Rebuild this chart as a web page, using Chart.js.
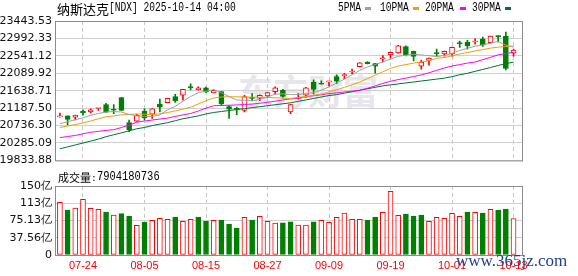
<!DOCTYPE html>
<html>
<head>
<meta charset="utf-8">
<title>纳斯达克[NDX]</title>
<script src="https://cdn.jsdelivr.net/npm/chart.js@4.4.0/dist/chart.umd.min.js"></script>
<style>
  html, body { margin: 0; padding: 0; background: #fff; }
  #wrap { position: relative; width: 578px; height: 276px; overflow: hidden; }
  .abs { position: absolute; white-space: nowrap; }
  .cn { font-family: "Noto Sans CJK SC", sans-serif; color: #000; }
  .mono { font-family: "Liberation Mono", monospace; font-size: 12px; color: #000;
          transform: scaleX(0.8); transform-origin: 0 50%; }
  .swatch { position: absolute; width: 6px; height: 3px; }
  canvas { position: absolute; left: 0; }
</style>
</head>
<body>
<div id="wrap">
  <!-- watermarks -->
  <div class="abs cn" style="left:238px; top:71px; font-size:35px; line-height:38px; font-weight:bold; color:#e6e6ec;">东方财富</div>

  <canvas id="priceChart" width="578" height="170" style="top:0"></canvas>
  <canvas id="volumeChart" width="578" height="106" style="top:170px"></canvas>

  <div class="abs cn" style="left:57px; top:0; font-size:13px; line-height:17px;">纳斯达克</div>
  <div class="abs mono" style="left:109px; top:0; line-height:17px;">[NDX] 2025-10-14 04:00</div>
  <div id="legend"></div>

  <div class="abs cn" style="left:58px; top:170px; font-size:11px; line-height:15px;">成交量</div>
  <div class="abs" style="left:92px; top:170px; font-family:'DejaVu Sans', sans-serif; font-size:11px; line-height:15px; color:#000;">:</div>
  <div class="abs mono" style="left:97px; top:170px; line-height:15px; transform: scaleX(0.87);" id="volLabel"></div>

  <div class="abs" style="left:456px; top:252px; font-family:'Liberation Serif', serif; font-size:17px; line-height:18px; color:#23408e;">www.365jz.com</div>
</div>

<script>
// ---- data ----
const dates = ['07-21','07-22','07-23','07-24','07-25','07-28','07-29','07-30','07-31','08-01',
  '08-04','08-05','08-06','08-07','08-08','08-11','08-12','08-13','08-14','08-15',
  '08-18','08-19','08-20','08-21','08-22','08-25','08-26','08-27','08-28','08-29',
  '09-02','09-03','09-04','09-05','09-08','09-09','09-10','09-11','09-12','09-15',
  '09-16','09-17','09-18','09-19','09-22','09-23','09-24','09-25','09-26','09-29',
  '09-30','10-01','10-02','10-03','10-06','10-07','10-08','10-09','10-10','10-13'];

const opens = [20960, 20987, 20954, 21105, 21087, 21178, 21280, 21150, 21463, 20811,
  20850, 21112, 21029, 21295, 21330, 21488, 21521, 21746, 21656, 21714,
  21581, 21613, 21230, 21180, 21130, 21446, 21446, 21506, 21613, 21646,
  21087, 21438, 21521, 21864, 21814, 21868, 22007, 22029, 22122, 22258,
  22383, 22341, 22466, 22566, 22616, 22779, 22659, 22273, 22423, 22616,
  22591, 22591, 22884, 22900, 22900, 22985, 22884, 23065, 23055, 22609];

const highs = [21062, 20990, 21010, 21145, 21170, 21185, 21313, 21280, 21465, 20879,
  21030, 21170, 21172, 21421, 21440, 21546, 21673, 21814, 21739, 21730,
  21660, 21625, 21255, 21213, 21521, 21564, 21530, 21590, 21739, 21671,
  21285, 21564, 21725, 21922, 21897, 21880, 22047, 22090, 22198, 22365,
  22390, 22345, 22549, 22640, 22815, 22799, 22665, 22423, 22490, 22717,
  22665, 22765, 22925, 22942, 22985, 23025, 23055, 23066, 23155, 22717];

const lows = [20955, 20754, 20879, 21004, 21062, 21130, 21078, 21045, 21120, 20578,
  20845, 20879, 20920, 21087, 21328, 21338, 21396, 21656, 21654, 21590,
  21578, 21255, 20920, 21020, 21087, 21380, 21380, 21463, 21546, 21463,
  21045, 21421, 21463, 21546, 21806, 21756, 21822, 21947, 22072, 22255,
  22335, 22090, 22383, 22483, 22605, 22541, 22408, 22198, 22298, 22533,
  22533, 22533, 22759, 22717, 22842, 22784, 22870, 22900, 22178, 22533];

const closes = [20965, 20894, 21004, 21070, 21145, 21182, 21080, 21135, 21125, 20628,
  21004, 20937, 21170, 21213, 21438, 21380, 21671, 21720, 21710, 21606,
  21646, 21295, 21162, 21155, 21488, 21438, 21521, 21588, 21714, 21488,
  21280, 21455, 21714, 21671, 21806, 21872, 21885, 22047, 22133, 22358,
  22341, 22273, 22474, 22634, 22799, 22573, 22524, 22383, 22483, 22599,
  22659, 22759, 22859, 22799, 22917, 22817, 23050, 23040, 22215, 22691];

const ma5 = [20786, 20836, 20887, 20937, 20999, 21049, 21087, 21100, 21087, 21024,
  20987, 20969, 20974, 21012, 21145, 21232, 21368, 21488, 21588, 21626,
  21664, 21588, 21488, 21400, 21388, 21375, 21413, 21476, 21551, 21556,
  21538, 21538, 21568, 21588, 21651, 21739, 21839, 21939, 22052, 22165,
  22253, 22315, 22383, 22458, 22528, 22558, 22583, 22566, 22546, 22521,
  22553, 22603, 22681, 22736, 22791, 22824, 22872, 22910, 22822, 22767];

const ma10 = [20686, 20724, 20761, 20804, 20854, 20912, 20962, 20987, 21012, 21024,
  21037, 21029, 21024, 21037, 21074, 21117, 21162, 21212, 21295, 21380,
  21450, 21476, 21481, 21481, 21476, 21471, 21468, 21463, 21456, 21446,
  21438, 21463, 21488, 21518, 21551, 21613, 21664, 21726, 21789, 21864,
  21952, 22040, 22127, 22215, 22278, 22315, 22353, 22383, 22416, 22478,
  22496, 22541, 22591, 22628, 22666, 22704, 22741, 22766, 22784, 22791];

const ma20 = [20423, 20453, 20480, 20523, 20561, 20586, 20611, 20628, 20686, 20749,
  20824, 20854, 20879, 20904, 20929, 20974, 21012, 21049, 21112, 21187,
  21250, 21257, 21262, 21270, 21280, 21293, 21313, 21338, 21368, 21400,
  21425, 21450, 21481, 21508, 21533, 21563, 21583, 21606, 21626, 21651,
  21701, 21764, 21827, 21882, 21927, 21964, 22007, 22047, 22102, 22165,
  22228, 22278, 22315, 22353, 22383, 22441, 22504, 22566, 22603, 22633];

const ma30 = [20134, 20184, 20234, 20285, 20335, 20385, 20448, 20498, 20548, 20598,
  20653, 20686, 20736, 20774, 20811, 20862, 20912, 20949, 20987, 21037,
  21075, 21100, 21125, 21150, 21175, 21200, 21225, 21250, 21275, 21300,
  21325, 21363, 21400, 21438, 21476, 21513, 21538, 21576, 21613, 21651,
  21689, 21726, 21764, 21789, 21814, 21839, 21864, 21889, 21914, 21939,
  21964, 22002, 22052, 22090, 22140, 22190, 22240, 22291, 22341, 22378];

const lastVolume = 7904180736;
// volume in 亿 (1e8)
const volumes = [114.8, 98.0, 102.4, 121.3, 101.7, 99.5, 93.7, 87.1, 90.0, 84.9,
  64.7, 71.9, 75.6, 79.9, 77.8, 82.8, 73.4, 77.8, 82.8, 74.1,
  75.6, 76.2, 67.5, 58.8, 82.1, 76.2, 84.3, 73.4, 69.7, 70.3,
  72.5, 65.3, 65.3, 72.5, 75.6, 71.2, 82.1, 91.5, 77.8, 77.8,
  76.2, 82.8, 93.0, 138.7, 86.5, 89.3, 84.9, 87.1, 73.4, 82.1,
  79.9, 90.8, 84.3, 93.7, 93.0, 91.5, 99.5, 98.0, 100.2, lastVolume / 1e8];

const priceTicks = [19833.88, 20285.09, 20736.30, 21187.50, 21638.71, 22089.92, 22541.12, 22992.33, 23443.53];
const volTicks = [0, 37.56, 75.13, 112.69, 150.25];
const volTickLabels = ['0', '37.56亿', '75.13亿', '113亿', '150亿'];
const tickDates = ['07-24', '08-05', '08-15', '08-27', '09-09', '09-19', '10-01', '10-13'];

const maNames = ['5PMA', '10PMA', '20PMA', '30PMA'];
const maColors = ['#a0a0a0', '#f0a000', '#ff00ff', '#00703a'];

// ---- setup ----
Chart.defaults.font.family = 'DejaVu Sans';
Chart.defaults.font.size = 11;
Chart.defaults.color = '#000';
Chart.defaults.animation = false;

const UP = '#ff0000';
const DOWN = '#008000';
const X_MIN = -0.64, X_MAX = 60.1;

const idx = dates.map((d, i) => i);
const isUp = idx.map(i => closes[i] >= opens[i]);
const volUp = idx.map(i => closes[i] >= (i ? closes[i - 1] : opens[0]));
const tickIdx = tickDates.map(d => dates.indexOf(d));

// legend + volume label
const legendPos = [[338, 365], [380, 413], [425, 460], [472, 505]];
const legend = document.getElementById('legend');
maNames.forEach(function (name, k) {
  const t = document.createElement('div');
  t.className = 'abs mono';
  t.style.cssText = 'left:' + legendPos[k][0] + 'px; top:0; line-height:17px;';
  t.textContent = name;
  legend.appendChild(t);
  const s = document.createElement('div');
  s.className = 'swatch';
  s.style.cssText += 'left:' + legendPos[k][1] + 'px; top:7px; background:' + maColors[k] + ';';
  legend.appendChild(s);
});
document.getElementById('volLabel').textContent = String(lastVolume);

// plot-area frame
const framePlugin = {
  id: 'frame',
  afterDraw(chart) {
    const { ctx, chartArea: a } = chart;
    ctx.save();
    ctx.strokeStyle = '#8c8c8c';
    ctx.lineWidth = 1;
    ctx.strokeRect(a.left + 0.5, a.top + 0.5, a.right - a.left, a.bottom - a.top);
    ctx.restore();
  }
};

function xAxis(showLabels) {
  return {
    type: 'linear',
    min: X_MIN,
    max: X_MAX,
    offset: false,
    afterBuildTicks: s => { s.ticks = tickIdx.map(v => ({ value: v })); },
    afterFit: s => { s.height = showLabels ? 21 : 0; },
    grid: { color: '#c8c8c8', drawTicks: false, offset: false },
    border: { display: false, dash: [4, 3] },
    ticks: {
      display: showLabels, autoSkip: false, maxRotation: 0, padding: 4, color: '#ff0000',
      font: { family: 'Liberation Sans', size: 11 },
      callback: v => dates[v]
    }
  };
}

function yAxis(min, max, values, label) {
  return {
    min: min,
    max: max,
    afterBuildTicks: s => { s.ticks = values.map(v => ({ value: v })); },
    afterFit: s => { s.width = 55; },
    grid: { color: '#d0d0d0', drawTicks: false },
    border: { display: false },
    ticks: { padding: 3, color: '#101010', font: { family: 'DejaVu Sans', size: 11 }, callback: label }
  };
}

// ---- Price candles + MA lines ----
const maSets = [ma5, ma10, ma20, ma30].map((arr, k) => ({
  type: 'line',
  data: arr.map((v, i) => ({ x: i, y: v })),
  borderColor: maColors[k],
  borderWidth: 1,
  pointRadius: 0,
  tension: 0,
  order: 0
}));

new Chart(document.getElementById('priceChart'), {
  type: 'bar',
  data: {
    datasets: maSets.concat([
      {
        data: idx.map(i => ({ x: i, y: [opens[i], closes[i]] })),
        backgroundColor: isUp.map(u => u ? '#ffffff' : DOWN),
        borderColor: isUp.map(u => u ? UP : DOWN),
        borderWidth: 1,
        borderSkipped: false,
        barThickness: 5,
        minBarLength: 1,
        grouped: false,
        order: 1
      },
      {
        data: idx.map(i => ({ x: i, y: [lows[i], highs[i]] })),
        backgroundColor: isUp.map(u => u ? UP : DOWN),
        borderWidth: 0,
        barThickness: 1,
        grouped: false,
        order: 2
      }
    ])
  },
  options: {
    responsive: false,
    layout: { padding: { top: 21, right: 56, bottom: 5, left: 0 } },
    scales: {
      x: xAxis(false),
      y: yAxis(priceTicks[0], priceTicks[priceTicks.length - 1], priceTicks, v => v.toFixed(2))
    },
    plugins: { legend: { display: false }, tooltip: { enabled: false } }
  },
  plugins: [framePlugin]
});

// ---- Volume bars ----
new Chart(document.getElementById('volumeChart'), {
  type: 'bar',
  data: {
    datasets: [{
      data: idx.map(i => ({ x: i, y: volumes[i] })),
      backgroundColor: volUp.map(u => u ? '#ffffff' : DOWN),
      borderColor: volUp.map(u => u ? UP : DOWN),
      borderWidth: 1,
      borderSkipped: false,
      barThickness: 5
    }]
  },
  options: {
    responsive: false,
    layout: { padding: { top: 16, right: 56, bottom: 0, left: 0 } },
    scales: {
      x: xAxis(true),
      y: yAxis(volTicks[0], volTicks[volTicks.length - 1], volTicks, (v, i) => volTickLabels[i])
    },
    plugins: { legend: { display: false }, tooltip: { enabled: false } }
  },
  plugins: [framePlugin]
});
</script>
</body>
</html>
